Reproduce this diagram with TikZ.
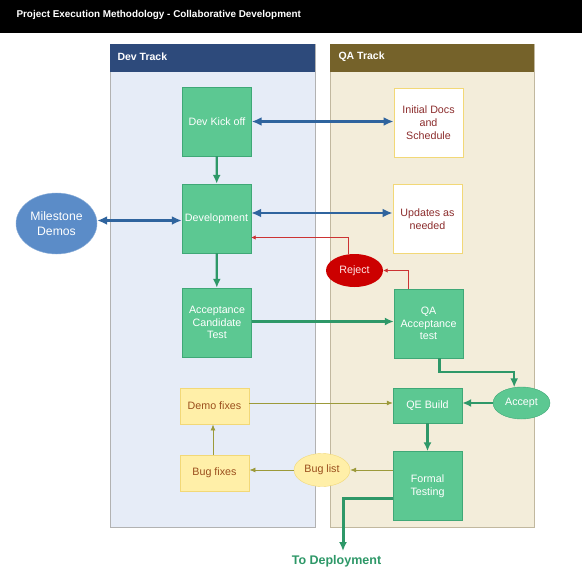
\documentclass[tikz,border=0pt]{standalone}
\usepackage{fontspec}
\setmainfont{Liberation Sans}
\usetikzlibrary{shapes.geometric,calc,arrows.meta}

\definecolor{devhead}{HTML}{2D4A7B}
\definecolor{devbody}{HTML}{E6ECF7}
\definecolor{qahead}{HTML}{75622A}
\definecolor{qabody}{HTML}{F3EDDA}
\definecolor{stepfill}{HTML}{5CC892}
\definecolor{stepline}{HTML}{3FA877}
\definecolor{flowgreen}{HTML}{2E9868}
\definecolor{flowblue}{HTML}{2F649E}
\definecolor{milefill}{HTML}{5B8CC8}
\definecolor{notefill}{HTML}{FFEFA8}
\definecolor{noteline}{HTML}{F2D877}
\definecolor{notetext}{HTML}{9A4E1C}
\definecolor{doctext}{HTML}{8C2D2D}
\definecolor{rejfill}{HTML}{CC0000}
\definecolor{rejline}{HTML}{CC3333}
\definecolor{olive}{HTML}{9C9A3A}

\tikzset{
  txt/.style={font=\fontsize{10.7}{12.8}\selectfont, align=center},
  stepbox/.style={txt, draw=stepline, fill=stepfill, text=white, minimum width=69pt, minimum height=69pt, inner sep=1pt},
  shortbox/.style={stepbox, minimum height=35pt},
  docbox/.style={txt, draw=noteline, fill=white, text=doctext, minimum width=69pt, minimum height=69pt, inner sep=1pt, line width=0.9pt},
  fixbox/.style={txt, draw=noteline, fill=notefill, text=notetext, minimum width=69pt, minimum height=36pt, line width=0.9pt},
  oval/.style={txt, ellipse, inner sep=0pt},
  bluearrow/.style={flowblue, line width=2.2pt, {Latex[length=10pt,width=9pt]}-{Latex[length=10pt,width=9pt]}},
  greenarrow/.style={flowgreen, line width=2.2pt, -{Latex[length=9pt,width=8pt]}},
  redarrow/.style={rejline, line width=0.8pt, -{Latex[length=4.5pt,width=4.5pt]}},
  olivearrow/.style={olive, line width=0.8pt, -{Latex[length=6pt,width=5pt]}}
}

\begin{document}
\begin{tikzpicture}[x=1pt,y=-1pt]
  \useasboundingbox (0,0) rectangle (582,571);
  \fill[white] (0,0) rectangle (582,571);
  \fill[black] (0,0) rectangle (582,33);
  \node[anchor=west, text=white, font=\fontsize{9.9}{12}\selectfont\bfseries] (title) at (13,15)
    {Project Execution Methodology - Collaborative Development};

  \begin{scope}[line width=0.8pt]
  \draw[gray!60, fill=devbody] (110,44) rectangle (315,527);
  \fill[devhead] (110,44) rectangle (315,72);
  \draw[qahead!45, fill=qabody] (330,44) rectangle (534,527);
  \fill[qahead] (330,44) rectangle (534,72);
  \end{scope}
  \node[anchor=west, text=white, font=\fontsize{10.5}{12}\selectfont\bfseries] (devtrack) at (114,57) {Dev Track};
  \node[anchor=west, text=white, font=\fontsize{10.5}{12}\selectfont\bfseries] (qatrack) at (335,57) {QA Track};

  \node[stepbox] (kick) at (217,121.5) {Dev Kick off};
  \node[stepbox] (dev) at (216.5,218.5) {Development};
  \node[stepbox] (act) at (217,322.5) {Acceptance\\Candidate\\Test};
  \node[fixbox] (demo) at (214.5,406) {Demo fixes};
  \node[fixbox] (bugfix) at (214.5,473) {Bug fixes};

  \node[docbox] (docs) at (428.5,122.5) {Initial Docs\\and\\Schedule};
  \node[docbox] (upd) at (427.5,219) {Updates as\\needed};
  \node[stepbox] (qaacc) at (428.5,323.5) {QA\\Acceptance\\test};
  \node[shortbox] (qebuild) at (427.5,405.5) {QE Build};
  \node[stepbox] (formal) at (427.5,486) {Formal\\Testing};

  \node[oval, fill=milefill, draw=milefill!70, text=white, font=\fontsize{12.2}{14.5}\selectfont, minimum width=81pt, minimum height=61pt] (mile) at (56.5,223.5) {Milestone\\Demos};
  \node[oval, fill=rejfill, text=white!90!red, minimum width=57pt, minimum height=33pt] (reject) at (354.5,270.5) {Reject};
  \node[oval, fill=stepfill, draw=stepline, text=white, minimum width=57pt, minimum height=32pt] (accept) at (521.5,403) {Accept};
  \node[oval, fill=notefill, draw=noteline, text=notetext, minimum width=56pt, minimum height=33pt] (buglist) at (322,470) {Bug list};

  \coordinate (out) at (343,551);
  \node[font=\fontsize{12.5}{15}\selectfont\bfseries, text=flowgreen] (deploy) at (336.5,561) {To Deployment};

  \draw[bluearrow] (kick.east) -- (kick.east -| docs.west);
  \draw[bluearrow] ([yshift=5.5pt]dev.east) -- ([yshift=5.5pt]dev.east -| upd.west);
  \draw[bluearrow] ([yshift=3pt]mile.east) -- ([yshift=3pt]mile.east -| dev.west);

  \draw[redarrow] ([xshift=15pt]qaacc.north west) |- (reject.east);
  \draw[redarrow] (reject.110) |- ([yshift=-19pt]dev.east);

  \draw[greenarrow] (kick) -- (dev);
  \draw[greenarrow] (dev) -- (act);
  \draw[greenarrow] ([yshift=1pt]act.east) -- ([yshift=1pt]act.east -| qaacc.west);
  \draw[greenarrow] ([xshift=11pt]qaacc.south) -- ++(0,14) -| (accept.115);
  \draw[greenarrow] (accept.west) -- (accept.west -| qebuild.east);
  \draw[greenarrow] (qebuild) -- (formal);
  \draw[greenarrow, line width=3pt] ([yshift=-12pt]formal.west) -| (out);

  \draw[olivearrow] ([yshift=3pt]demo.east) -- ([yshift=3pt]demo.east -| qebuild.west);
  \draw[olivearrow] ([xshift=-1.5pt]bugfix.north) -- ([xshift=-1.5pt]demo.south);
  \draw[olivearrow] (buglist.west) -- (buglist.west -| bugfix.east);
  \draw[olivearrow] (buglist.east -| formal.west) -- (buglist.east);
\end{tikzpicture}
\end{document}
